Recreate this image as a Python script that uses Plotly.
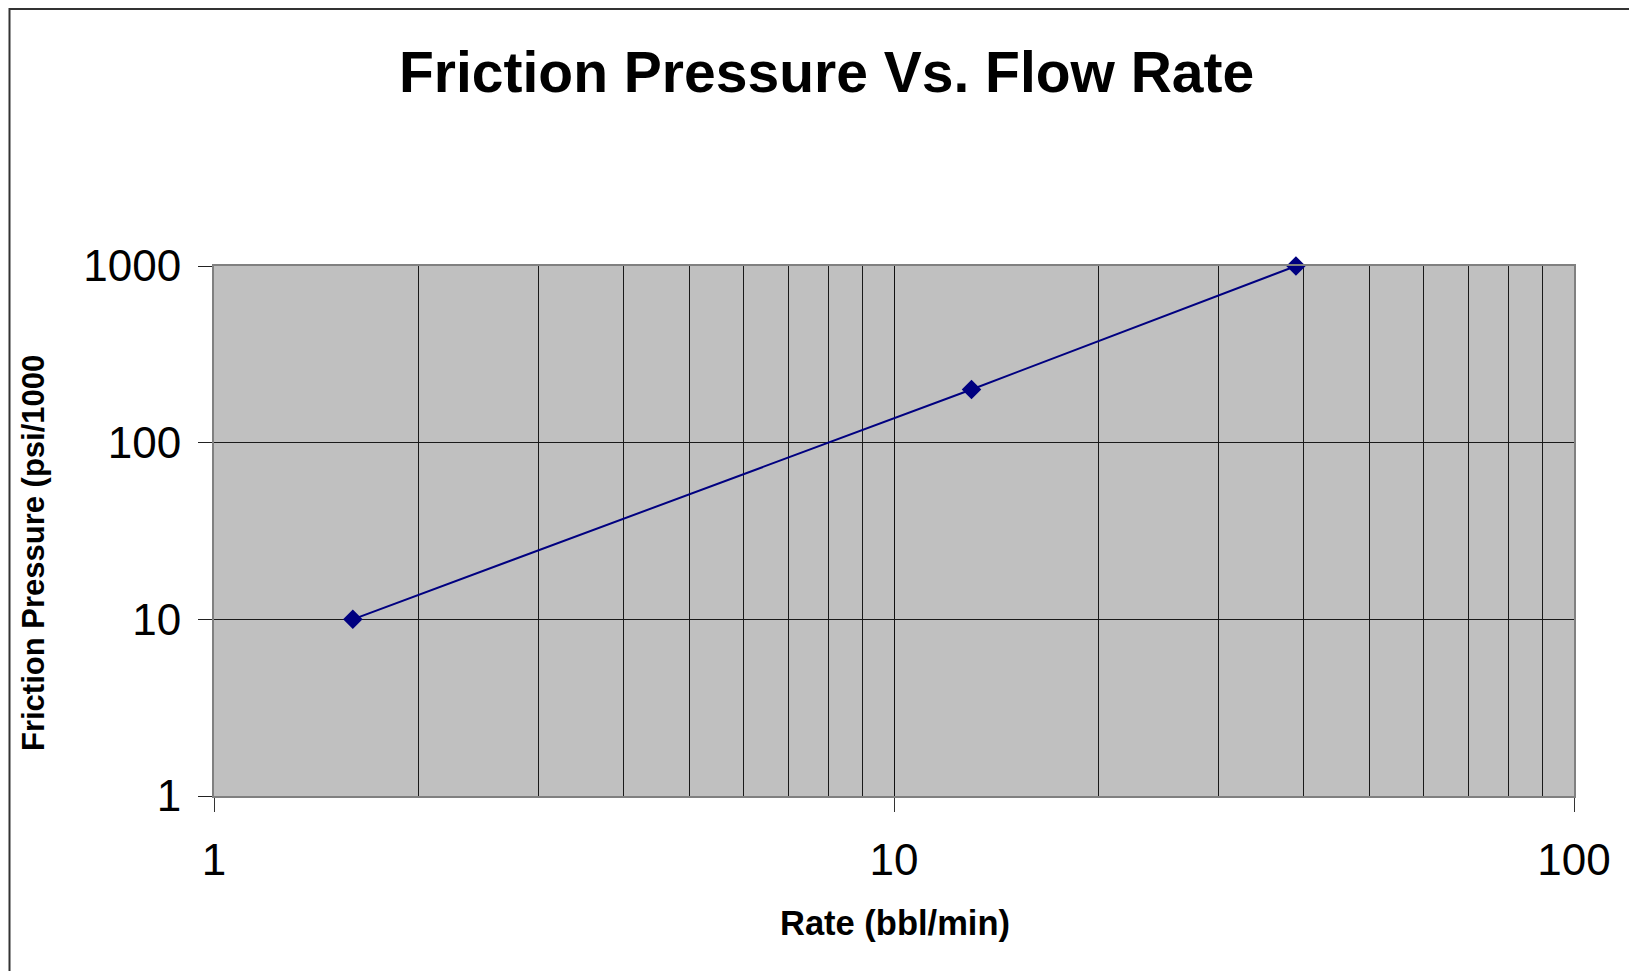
import plotly.graph_objects as go

# Data
rate_bbl_min = [1.6, 13, 39]
friction_psi_per_1000ft = [10, 200, 1000]

x_tick_vals = [1, 10, 100]
x_tick_text = ["1", "10", "100"]
y_tick_vals = [1, 10, 100, 1000]
y_tick_text = ["1", "10", "100", "1000"]
x_minor_vals = [2, 3, 4, 5, 6, 7, 8, 9, 20, 30, 40, 50, 60, 70, 80, 90]

FONT = "Liberation Sans, Arial, sans-serif"

# plot area in page pixels (target)
PL, PR, PT, PB = 214, 1574, 266, 796
OFF = 8  # page body margin
W, H = 1637, 971


def px(xp):
    return (xp - PL) / (PR - PL)


def py(yp):
    return (PB - yp) / (PB - PT)


fig = go.Figure()
fig.add_trace(go.Scatter(
    x=rate_bbl_min, y=friction_psi_per_1000ft,
    mode="lines+markers",
    line=dict(color="#000080", width=2),
    marker=dict(symbol="diamond", size=15, color="#000080"),
    showlegend=False, cliponaxis=False,
))

fig.update_layout(
    width=W, height=H,
    margin=dict(l=PL - OFF, r=W + OFF - PR, t=PT - OFF, b=H + OFF - PB),
    paper_bgcolor="white",
    plot_bgcolor="#C0C0C0",
    font=dict(family=FONT, color="black"),
    annotations=[
        dict(text="<b>Friction Pressure Vs. Flow Rate</b>", xref="paper", yref="paper",
             x=px(826), y=py(72),
             xanchor="center", yanchor="middle", showarrow=False,
             font=dict(size=57, family=FONT)),
        dict(text="<b>Rate (bbl/min)</b>", xref="paper", yref="paper",
             x=px(895), y=py(923),
             xanchor="center", yanchor="middle", showarrow=False,
             font=dict(size=34.5, family=FONT)),
        dict(text="<b>Friction Pressure (psi/1000</b>", xref="paper", yref="paper",
             x=px(33), y=py(553),
             xanchor="center", yanchor="middle", showarrow=False, textangle=-90,
             font=dict(size=31, family=FONT)),
    ],
    shapes=[
        dict(type="rect", xref="paper", yref="paper",
             x0=px(OFF + 1.5), x1=px(1660), y0=py(1000), y1=py(OFF + 1),
             line=dict(color="#333333", width=2), layer="below"),
    ],
)

fig.update_xaxes(
    type="log", range=[0, 2],
    tickvals=x_tick_vals, ticktext=x_tick_text,
    tickfont=dict(size=44), ticks="outside", ticklen=14, tickcolor="#333333",
    showgrid=True, gridcolor="#111111", gridwidth=1,
    minor=dict(tickvals=x_minor_vals, showgrid=True, gridcolor="#1a1a1a", gridwidth=1, ticks=""),
    showline=True, linecolor="#808080", linewidth=2, mirror=True,
    zeroline=False, ticklabelstandoff=10,
)
fig.update_yaxes(
    type="log", range=[0, 3],
    tickvals=y_tick_vals, ticktext=y_tick_text,
    tickfont=dict(size=44), ticks="outside", ticklen=14, tickcolor="#222222",
    showgrid=True, gridcolor="#1a1a1a", gridwidth=1,
    showline=True, linecolor="#808080", linewidth=2, mirror=True,
    zeroline=False, ticklabelstandoff=8,
)

fig.write_html("out.html")
